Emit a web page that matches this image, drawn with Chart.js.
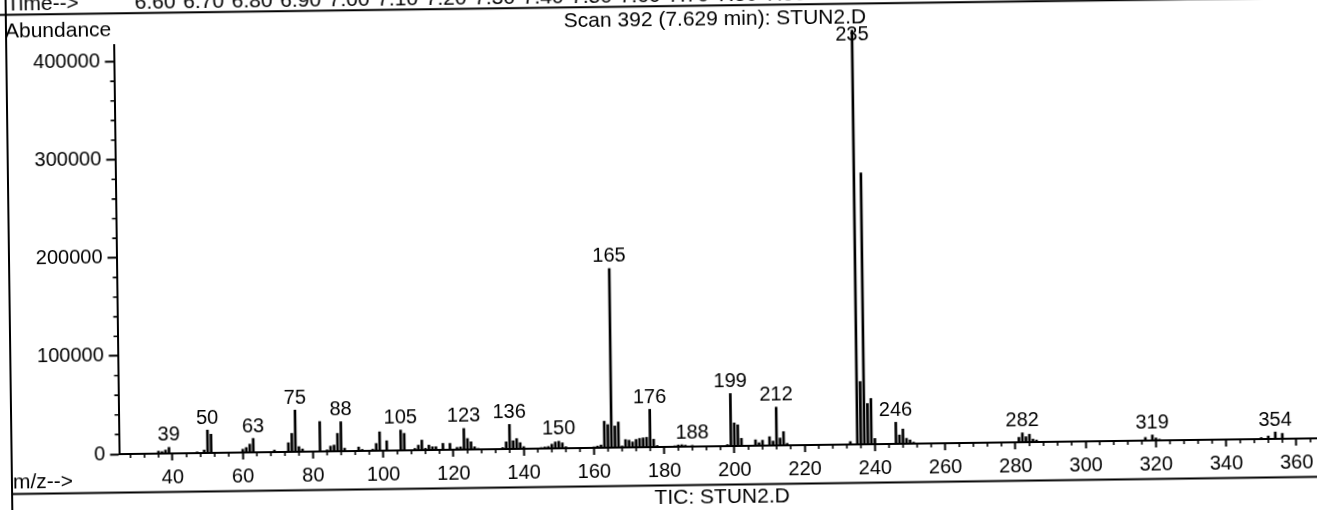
<!DOCTYPE html>
<html lang="en">
<head>
    <meta charset="UTF-8">
    <title>Scan 392 (7.629 min): STUN2.D</title>
    <style>
        html, body { margin: 0; padding: 0; background: #fff; }
        #frame { position: relative; width: 1317px; height: 510px; overflow: hidden; background: #fff; }
        /* the scanned printout sits slightly tilted, so the whole sheet is turned a little */
        #spectrum { position: absolute; left: -20px; top: -20px; width: 1357px; height: 550px; transform: rotate(-0.756deg); }
    </style>
</head>
<body>
    <div id="frame"><canvas id="spectrum" width="1357" height="550"></canvas></div>

    <script src="https://cdn.jsdelivr.net/npm/chart.js"></script>
    <script>
        // m/z of each line and its abundance
        const mz = [
            36, 37, 38, 39, 47, 49, 50, 51, 60, 61, 62, 63, 69,
            73, 74, 75, 76, 77, 82, 84, 85, 86, 87, 88, 89, 93, 94,
            97, 98, 99, 101, 105, 106, 109, 110, 111, 112, 113, 114, 115,
            117, 119, 121, 122, 123, 124, 125, 126, 127,
            134, 135, 136, 137, 138, 139, 140,
            145, 146, 147, 148, 149, 150, 151, 152,
            160, 161, 162, 163, 164, 165, 166, 167, 168,
            169, 170, 171, 172, 173, 174, 175, 176, 177, 178,
            183, 184, 185, 186, 188, 198, 199, 200, 201, 202,
            206, 207, 208, 210, 211, 212, 213, 214, 215,
            233, 235, 236, 237, 238, 239, 240,
            246, 247, 248, 249, 250, 251,
            281, 282, 283, 284, 285, 286,
            317, 319, 320, 321, 350, 352, 354, 356
        ];
        const abundance = [
            2500, 2000, 3500, 6200, 1200, 3000, 23300, 19000, 3300, 5000, 8400, 14200, 2000,
            9300, 18800, 42500, 5200, 2800, 30500, 1500, 5300, 6300, 18200, 30000, 3000, 4000, 1500,
            1600, 7400, 19200, 10000, 20700, 17300, 1800, 5100, 10200, 1800, 5000, 3300, 3300,
            6600, 6500, 2300, 2800, 21500, 11200, 7800, 2700, 1000,
            1500, 7300, 25000, 8300, 10500, 6300, 2200,
            1000, 1500, 2000, 4300, 6500, 7200, 5500, 1500,
            1000, 1800, 2800, 27000, 23500, 182500, 22000, 26000, 1500,
            8000, 7300, 5500, 8000, 9000, 9500, 10000, 38500, 8000, 1500,
            1000, 1800, 2000, 1500, 1200, 1500, 53500, 23500, 21500, 7700,
            6000, 3000, 5500, 9000, 4500, 39000, 7500, 14000, 2000,
            3000, 422000, 64000, 276500, 41500, 46600, 5800,
            22000, 9000, 15000, 5500, 3800, 1500,
            5000, 9500, 5500, 8000, 3000, 2000,
            3200, 5600, 2500, 1200, 1500, 3000, 7000, 5500
        ];
        // lines that carry their m/z above them
        const labeledPeaks = [39, 50, 63, 75, 88, 105, 123, 136, 150, 165, 176, 188, 199, 212, 235, 246, 282, 319, 354];

        const xTickLabels = [40, 60, 80, 100, 120, 140, 160, 180, 200, 220, 240, 260, 280, 300, 320, 340, 360];
        const yTickLabels = [0, 100000, 200000, 300000, 400000];
        const timeLabels = ['6.60', '6.70', '6.80', '6.90', '7.00', '7.10', '7.20', '7.30', '7.40',
                            '7.50', '7.60', '7.70', '7.80', '7.90', '8.00', '8.10', '8.20'];

        const FONT = '"Liberation Sans", Arial, sans-serif';

        // small ticks: every 4 on m/z, every 20000 on abundance
        const minorTicks = {
            id: 'minorTicks',
            afterDraw(chart) {
                const { ctx, chartArea, scales: { x, y } } = chart;
                ctx.save();
                ctx.strokeStyle = '#000';
                ctx.lineWidth = 1.6;
                ctx.beginPath();
                for (let v = 28; v < x.max; v += 4) {
                    if (v % 20 === 0) continue;
                    const px = x.getPixelForValue(v);
                    ctx.moveTo(px, chartArea.bottom);
                    ctx.lineTo(px, chartArea.bottom + 4);
                }
                for (let v = 20000; v < y.max; v += 20000) {
                    if (v % 100000 === 0) continue;
                    const py = y.getPixelForValue(v);
                    ctx.moveTo(chartArea.left - 4, py);
                    ctx.lineTo(chartArea.left, py);
                }
                ctx.stroke();
                ctx.restore();
            }
        };

        const peakLabels = {
            id: 'peakLabels',
            afterDatasetsDraw(chart) {
                const { ctx, chartArea, scales: { x, y } } = chart;
                ctx.save();
                ctx.font = '20px ' + FONT;
                ctx.fillStyle = '#000';
                ctx.textAlign = 'center';
                ctx.textBaseline = 'middle';
                labeledPeaks.forEach(m => {
                    const val = abundance[mz.indexOf(m)];
                    const py = Math.max(y.getPixelForValue(val) - 12, chartArea.top);
                    ctx.fillText(String(m), x.getPixelForValue(m), py);
                });
                ctx.restore();
            }
        };

        // header / footer text and the rules of the printout
        const pageFrame = {
            id: 'pageFrame',
            afterDraw(chart) {
                const ctx = chart.ctx;
                ctx.save();
                ctx.strokeStyle = '#000';
                ctx.lineWidth = 2;
                ctx.beginPath();
                ctx.moveTo(0, 26.3);
                ctx.lineTo(chart.width, 26.3);
                ctx.moveTo(29, 0);
                ctx.lineTo(29, chart.height);
                ctx.moveTo(29, 505.5);
                ctx.lineTo(chart.width, 505.5);
                ctx.stroke();

                ctx.fillStyle = '#000';
                ctx.font = '21px ' + FONT;
                ctx.textBaseline = 'middle';
                ctx.textAlign = 'left';
                ctx.fillText('Time-->', 30, 16);
                timeLabels.forEach((t, i) => ctx.fillText(t, 158 + i * 48.5, 16.5));
                ctx.fillText('Abundance', 28, 43.4);
                ctx.fillText('m/z-->', 30, 494.5);
                ctx.textAlign = 'center';
                ctx.fillText('Scan 392 (7.629 min): STUN2.D', 738, 40.7);
                ctx.fillText('TIC: STUN2.D', 739, 517.8);
                ctx.restore();
            }
        };

        const points = mz.map((m, i) => ({ x: m, y: abundance[i] }));

        new Chart(document.getElementById('spectrum'), {
            type: 'bar',
            data: {
                datasets: [{
                    data: points,
                    backgroundColor: '#000',
                    borderWidth: 0,
                    barThickness: 2,
                    clip: false
                }]
            },
            options: {
                responsive: false,
                animation: false,
                devicePixelRatio: 1,
                layout: { padding: { left: 20, right: 22, top: 57.8, bottom: 20 } },
                plugins: {
                    legend: { display: false },
                    tooltip: { enabled: false }
                },
                scales: {
                    x: {
                        type: 'linear',
                        min: 24.77,
                        max: 366,
                        offset: false,
                        afterBuildTicks: scale => { scale.ticks = xTickLabels.map(v => ({ value: v })); },
                        afterFit: scale => { scale.height = 63; },
                        border: { display: true, color: '#000', width: 2 },
                        grid: { display: true, drawOnChartArea: false, drawTicks: true, offset: false,
                                tickLength: 7, tickWidth: 2, tickColor: '#000' },
                        ticks: { color: '#000', font: { family: FONT, size: 20 }, padding: 5,
                                 maxRotation: 0, autoSkip: false, callback: v => String(v) }
                    },
                    y: {
                        min: 0,
                        max: 417000,
                        afterBuildTicks: scale => { scale.ticks = yTickLabels.map(v => ({ value: v })); },
                        afterFit: scale => { scale.width = 116.5; },
                        border: { display: true, color: '#000', width: 2 },
                        grid: { display: true, drawOnChartArea: false, drawTicks: true,
                                tickLength: 9, tickWidth: 2, tickColor: '#000' },
                        ticks: { color: '#000', font: { family: FONT, size: 20 }, padding: 5,
                                 callback: v => String(v) }
                    }
                }
            },
            plugins: [minorTicks, peakLabels, pageFrame]
        });
    </script>
</body>
</html>
